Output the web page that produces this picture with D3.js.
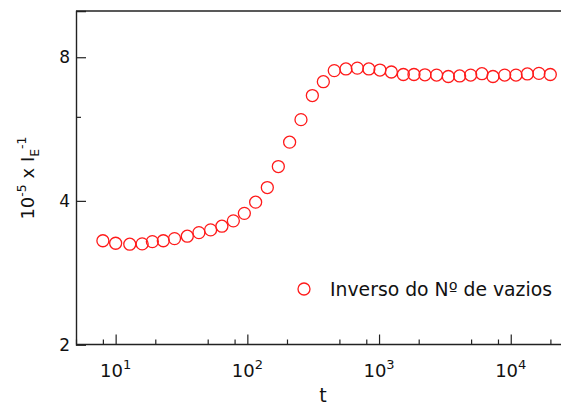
<!DOCTYPE html>
<html>
<head>
<meta charset="utf-8">
<script src="https://cdn.jsdelivr.net/npm/d3@7"></script>
<style>
  html, body { margin: 0; padding: 0; background: #fff; }
  svg { display: block; }
  text { font-family: "DejaVu Sans", Verdana, sans-serif; fill: #111; }
</style>
</head>
<body>
<svg id="chart" width="561" height="406"></svg>
<script>
// Time values (t) and inverse of number of voids (10^-5 x I_E^-1)
const tValues = [8, 10, 12.8, 15.9, 19, 23, 28, 35, 42.9, 52.6, 64.1, 78.3, 94.9, 115.6, 141.8, 171.9,
  209.4, 255.4, 311.6, 377.6, 457, 560.5, 684, 837, 1016, 1240, 1529, 1841, 2231, 2735, 3357, 4092,
  4961, 6043, 7328, 8991, 10960, 13370, 16370, 19970];
const inverseVoids = [3.30, 3.26, 3.245, 3.25, 3.286, 3.30, 3.334, 3.373, 3.432, 3.477, 3.54, 3.632,
  3.766, 3.975, 4.265, 4.72, 5.31, 5.92, 6.65, 7.11, 7.50, 7.56, 7.59, 7.56, 7.52, 7.45, 7.36, 7.36,
  7.35, 7.34, 7.29, 7.31, 7.34, 7.39, 7.29, 7.34, 7.34, 7.38, 7.40, 7.36];

const xMajorTicks = [10, 100, 1000, 10000];
const xExponents = ["1", "2", "3", "4"];
const xMinorTicks = [5, 8, 20, 50, 80, 200, 500, 800, 2000, 5000, 8000, 20000];
const yMajorTicks = [2, 4, 8];
const yMinorTicks = [6];
const seriesName = "Inverso do Nº de vazios";

const svg = d3.select("#chart");
const plotLeft = 76, plotBottom = 344.5, plotTop = 11;
const decade = 131.7;

const x = d3.scaleLog().base(10)
  .domain([5, 30000])
  .range([plotLeft, plotLeft + Math.log10(30000 / 5) * decade]);
const y = d3.scaleLog().base(2)
  .domain([2, 10])
  .range([plotBottom, plotTop]);

const axisColor = "#222";

// x axis: ticks point into the plot
const xAxisMajor = d3.axisBottom(x).tickValues(xMajorTicks).tickSize(-10).tickFormat("");
const xAxisMinor = d3.axisBottom(x).tickValues(xMinorTicks).tickSize(-5).tickFormat("");
const gx = svg.append("g").attr("transform", `translate(0,${plotBottom})`);
gx.call(xAxisMajor);
gx.append("g").call(xAxisMinor).select(".domain").remove();
gx.select(".domain").attr("d", `M${plotLeft},0H561`);

const gy = svg.append("g").attr("transform", `translate(${plotLeft},0)`);
gy.call(d3.axisLeft(y).tickValues(yMajorTicks).tickSize(-10).tickFormat(""));
gy.append("g").call(d3.axisLeft(y).tickValues(yMinorTicks).tickSize(-5).tickFormat("")).select(".domain").remove();

svg.selectAll(".domain").attr("stroke", axisColor).attr("stroke-width", 1.4);
svg.selectAll(".tick line").attr("stroke", axisColor).attr("stroke-width", 1.2);

// top frame line
svg.append("line")
  .attr("x1", plotLeft).attr("x2", 561)
  .attr("y1", y(10)).attr("y2", y(10))
  .attr("stroke", axisColor).attr("stroke-width", 1.4);

// x tick labels as powers of ten
xMajorTicks.forEach((v, i) => {
  const t = svg.append("text")
    .attr("x", x(v)).attr("y", 377)
    .attr("text-anchor", "middle")
    .style("font-size", "18px");
  t.append("tspan").text("10");
  t.append("tspan").attr("dy", -8).style("font-size", "13px").text(xExponents[i]);
});

// y tick labels
yMajorTicks.forEach(v => {
  svg.append("text")
    .attr("x", plotLeft - 6).attr("y", y(v) + 6)
    .attr("text-anchor", "end")
    .style("font-size", "17px")
    .text(v);
});

// axis titles
svg.append("text")
  .attr("x", 323)
  .attr("y", 402)
  .attr("text-anchor", "middle")
  .style("font-size", "19px")
  .text("t");

const yt = svg.append("text")
  .attr("transform", "translate(34,178) rotate(-90)")
  .attr("text-anchor", "middle")
  .style("font-size", "18px");
yt.append("tspan").text("10");
yt.append("tspan").attr("dy", -8).style("font-size", "12.5px").text("-5");
yt.append("tspan").attr("dy", 8).text(" x I");
yt.append("tspan").attr("dy", 5).style("font-size", "12.5px").text("E");
yt.append("tspan").attr("dy", -13).style("font-size", "12.5px").text("-1");

// data markers
const red = "#ff1a1a";
svg.append("g").selectAll("circle")
  .data(tValues.map((t, i) => ({ t, v: inverseVoids[i] })))
  .join("circle")
  .attr("cx", d => x(d.t))
  .attr("cy", d => y(d.v))
  .attr("r", 6)
  .attr("fill", "none")
  .attr("stroke", red)
  .attr("stroke-width", 1.3);

// legend
svg.append("circle")
  .attr("cx", 304).attr("cy", 289)
  .attr("r", 6)
  .attr("fill", "none").attr("stroke", red).attr("stroke-width", 1.3);
svg.append("text")
  .attr("x", 330).attr("y", 296)
  .attr("textLength", 222)
  .attr("lengthAdjust", "spacingAndGlyphs")
  .style("font-size", "19px")
  .text(seriesName);
</script>
</body>
</html>
